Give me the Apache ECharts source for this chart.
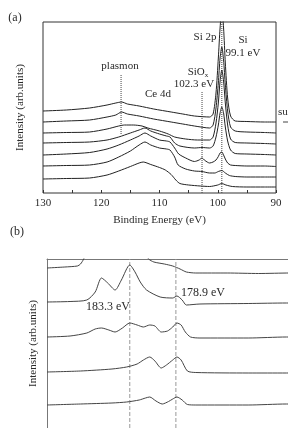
<!DOCTYPE html>
<html>
<head>
<meta charset="utf-8">
<script src="https://cdn.jsdelivr.net/npm/echarts@6/dist/echarts.min.js"></script>
<style>
  html, body { margin: 0; padding: 0; background: #fff; }
  #app { width: 288px; height: 428px; }
</style>
</head>
<body>
<div id="app"></div>
<script>
// (a) Si 2p / Ce 4d region, spectra top -> bottom, [binding energy eV, offset intensity]
const specA1 = [[130,82],[126,83],[122,85],[119,88],[117.5,90],[116.5,91],[115.5,89],[113.5,87],[111,84],[108,81],[106,79],[104,77],[101.4,76],[100.8,79],[100.3,100],[99.9,135],[99.6,165],[99.3,185],[99.0,165],[98.7,130],[98.3,95],[97.8,77],[97,72],[95,71.5],[92,71],[90,71]]
const specA2 = [[130,71],[126,72],[122,73],[119,76],[117.5,78],[116.5,81],[115.5,79],[113.5,77],[111,74],[108,71],[106,69],[104,67],[101.4,65],[100.8,68],[100.3,85],[99.9,110],[99.6,135],[99.3,146],[99.0,133],[98.7,108],[98.3,82],[97.8,66],[97,62],[95,61],[92,60.5],[90,60]]
const specA3 = [[130,60],[126,60.5],[122,61],[119,64],[117,67],[116,68],[114.5,68],[113,67],[112,65],[110,62],[108.5,59],[107.4,56],[105.5,54],[103.5,53],[101.4,53],[100.8,56],[100.3,70],[99.9,90],[99.6,112],[99.3,123],[99.0,112],[98.7,90],[98.3,68],[97.8,54],[97,50.5],[95,50],[92,49.5],[90,49]]
const specA4 = [[130,50],[126,50.5],[122,51],[119,53],[117,56],[115,60],[113.5,63],[112.5,65],[111.5,62],[110,59],[108.8,57],[108.2,56],[107.4,50],[106.5,47],[104,45],[102.7,45.5],[101.4,45],[100.8,47],[100.3,56],[99.9,68],[99.6,80],[99.3,86],[99.0,80],[98.7,66],[98.3,52],[97.8,43],[97,39.5],[95,39],[92,38.5],[90,38]]
const specA5 = [[130,38],[126,39],[122,40.5],[119,44],[117,48],[115,53],[113.5,57],[112.5,60],[111.5,57],[110,53],[108.8,52],[108.2,51],[107.4,45],[106.7,39],[105.5,35],[104,31.5],[103.2,33],[102.7,35],[102.2,32.5],[101.4,30],[100.8,31],[100.3,33],[99.9,36.5],[99.6,40],[99.3,41],[99.0,38],[98.7,34],[98.3,30],[97.8,28],[97,27.5],[95,27],[92,27],[90,26.5]]
const specA6 = [[130,27],[126,27.5],[122,28],[119,31],[117,36],[115,42],[113.5,48],[112.5,51],[111.5,48],[110,45],[108.8,44],[108.2,43],[107.4,36],[106.8,28],[105.5,24],[104,22],[102.7,21.5],[101.4,20],[100.5,20],[99.9,21.5],[99.3,22.5],[98.7,20],[98,17.5],[97,16.5],[95,16],[92,16],[90,16]]
const specA7 = [[130,14],[126,14.5],[122,15],[119,18],[117,22],[115,26.5],[113.5,30],[112.8,31],[111.5,28.5],[110,25.5],[109,23],[108,18.5],[107.2,13],[106.5,9.5],[105,8],[103,7],[101.4,6.5],[100,8],[99.3,9.5],[98.6,8],[97.5,6.5],[95,6],[92,6],[90,6]]

// (a) marker lines
const plasmonLine = [[116.6,118],[116.6,58]]
const siOxLine = [[102.7,101],[102.7,0]]
const siLine = [[99.3,171],[99.3,0]]

// (b) Ce 3d region (cropped), spectra top -> bottom
const specB1 = [[191.2,181],[189.5,182],[188.3,183],[188,185],[187.7,190],[187.4,198],[187,215],[186.5,230],[185,220],[183.3,250],[182.5,225],[181.9,197],[181.5,190],[181,187],[180,185],[179.2,183],[178.5,180],[177.9,177],[177,176],[174,176],[171,175.5],[168,176],[165,176]]
const specB2 = [[191.2,147],[189,147.5],[187.4,149],[186.6,157],[186.0,171],[185.4,166],[184.7,159],[184.1,169],[183.3,184],[182.8,177],[182.3,167],[181.7,159],[180.4,152],[179.2,151],[178.8,153],[178.3,149],[177.9,144],[176.6,145],[172,145.5],[168.35,146],[165,146]]
const specB3 = [[191.2,112],[189,113],[187.4,116],[186.6,120],[186.0,121],[185.3,119],[184.7,117],[184,121],[183.3,126],[182.6,124],[182,122],[181.4,124],[180.9,123],[180.3,117],[179.7,118],[179.2,122],[178.8,126],[178.4,124],[178,117],[177.5,112],[176.6,111],[172,111],[168.35,112],[165,112]]
const specB4 = [[191.2,77],[188,78],[185,80],[183.6,82],[182.6,85],[182,89],[181.4,92],[180.9,88],[180.3,81],[179.8,84],[179.2,89],[178.8,92],[178.4,89],[177.8,78],[177,76.5],[172,76],[168.35,76],[165,77]]
const specB5 = [[191.2,44],[188,45],[185,46],[183.6,47],[182.4,49],[181.8,51],[181.4,52],[180.8,48],[180.2,45],[179.6,47.5],[179.2,50],[178.8,52],[178.3,49],[177.8,44.5],[177,44],[172,44],[168.35,45],[165,45]]
const peakLineB1 = [[183.3,21],[183.3,190]]
const peakLineB2 = [[178.9,21],[178.9,190]]

const serif = 'Liberation Serif, DejaVu Serif, serif'
const ink = '#2a2a2a'

function spectrum(data, gi, color) {
  return {
    type: 'line', xAxisIndex: gi, yAxisIndex: gi, data: data,
    symbol: 'none', smooth: 0.25, silent: true,
    lineStyle: { color: color, width: 1 },
  }
}
function marker(data, gi, color, dash) {
  return {
    type: 'line', xAxisIndex: gi, yAxisIndex: gi, data: data,
    symbol: 'none', silent: true, z: 1,
    lineStyle: { color: color, width: 1, type: dash },
  }
}
function txt(x, y, s, size, align) {
  return {
    type: 'text', x: x, y: y,
    style: { text: s, font: size + 'px ' + serif, fill: ink, align: align || 'center', verticalAlign: 'middle' },
  }
}

const chart = echarts.init(document.getElementById('app'), null, { renderer: 'canvas' })
chart.setOption({
  animation: false,
  backgroundColor: '#fff',
  grid: [
    { left: 43, top: 22, width: 233, height: 171, show: true, borderColor: '#333', borderWidth: 1, backgroundColor: 'transparent' },
    { left: 47, top: 259, width: 241, height: 169 },
  ],
  xAxis: [
    {
      gridIndex: 0, type: 'value', min: 90, max: 130, interval: 10, inverse: true,
      axisLine: { show: false },
      axisTick: { show: true, inside: true, length: 3, lineStyle: { color: '#333' } },
      minorTick: { show: true, splitNumber: 2, length: 3, lineStyle: { color: '#333' } },
      splitLine: { show: false },
      axisLabel: { color: ink, fontFamily: serif, fontSize: 11, margin: 5 },
      name: 'Binding Energy (eV)', nameLocation: 'middle', nameGap: 22,
      nameTextStyle: { color: ink, fontFamily: serif, fontSize: 11 },
    },
    {
      gridIndex: 1, type: 'value', min: 168.2, max: 191.2, inverse: true, position: 'top',
      axisLine: { show: true, lineStyle: { color: '#777', width: 1 } },
      axisTick: { show: false },
      splitLine: { show: false },
      axisLabel: { show: false },
    },
  ],
  yAxis: [
    {
      gridIndex: 0, type: 'value', min: 0, max: 171,
      axisLine: { show: false }, axisTick: { show: false }, axisLabel: { show: false }, splitLine: { show: false },
      name: 'Intensity (arb.units)', nameLocation: 'middle', nameGap: 17, nameRotate: 90,
      nameTextStyle: { color: ink, fontFamily: serif, fontSize: 11 },
    },
    {
      gridIndex: 1, type: 'value', min: 21, max: 190,
      axisLine: { show: true, lineStyle: { color: '#777', width: 1 } },
      axisTick: { show: false }, axisLabel: { show: false }, splitLine: { show: false },
      name: 'Intensity (arb.units)', nameLocation: 'middle', nameGap: 8, nameRotate: 90,
      nameTextStyle: { color: ink, fontFamily: serif, fontSize: 11 },
    },
  ],
  series: [
    marker(plasmonLine, 0, '#444', 'dotted'),
    marker(siOxLine, 0, '#444', 'dotted'),
    marker(siLine, 0, '#444', 'dotted'),
    spectrum(specA1, 0, '#222'),
    spectrum(specA2, 0, '#222'),
    spectrum(specA3, 0, '#222'),
    spectrum(specA4, 0, '#222'),
    spectrum(specA5, 0, '#222'),
    spectrum(specA6, 0, '#222'),
    spectrum(specA7, 0, '#222'),
    marker(peakLineB1, 1, '#999', 'dashed'),
    marker(peakLineB2, 1, '#999', 'dashed'),
    spectrum(specB1, 1, '#444'),
    spectrum(specB2, 1, '#444'),
    spectrum(specB3, 1, '#444'),
    spectrum(specB4, 1, '#444'),
    spectrum(specB5, 1, '#444'),
  ],
  graphic: [
    txt(15, 18, '(a)', 12),
    txt(120, 66, 'plasmon', 11),
    txt(158, 94, 'Ce 4d', 11),
    txt(205, 37, 'Si 2p', 11),
    txt(243, 40, 'Si', 11),
    txt(243, 53, '99.1 eV', 11),
    {
      type: 'text', x: 198, y: 72,
      style: {
        text: 'SiO{s|x}', font: '11px ' + serif, fill: ink, align: 'center', verticalAlign: 'middle',
        rich: { s: { fontSize: 7, fontFamily: serif, fill: ink, padding: [6, 0, 0, 0] } },
      },
    },
    txt(194, 84, '102.3 eV', 11),
    txt(278, 112, 'su', 11, 'left'),
    { type: 'line', shape: { x1: 283, y1: 122, x2: 288, y2: 122 }, style: { stroke: '#444', lineWidth: 1 } },
    txt(17, 232, '(b)', 12),
    txt(108, 307, '183.3 eV', 12),
    txt(203, 293, '178.9 eV', 12),
  ],
})
</script>
</body>
</html>
